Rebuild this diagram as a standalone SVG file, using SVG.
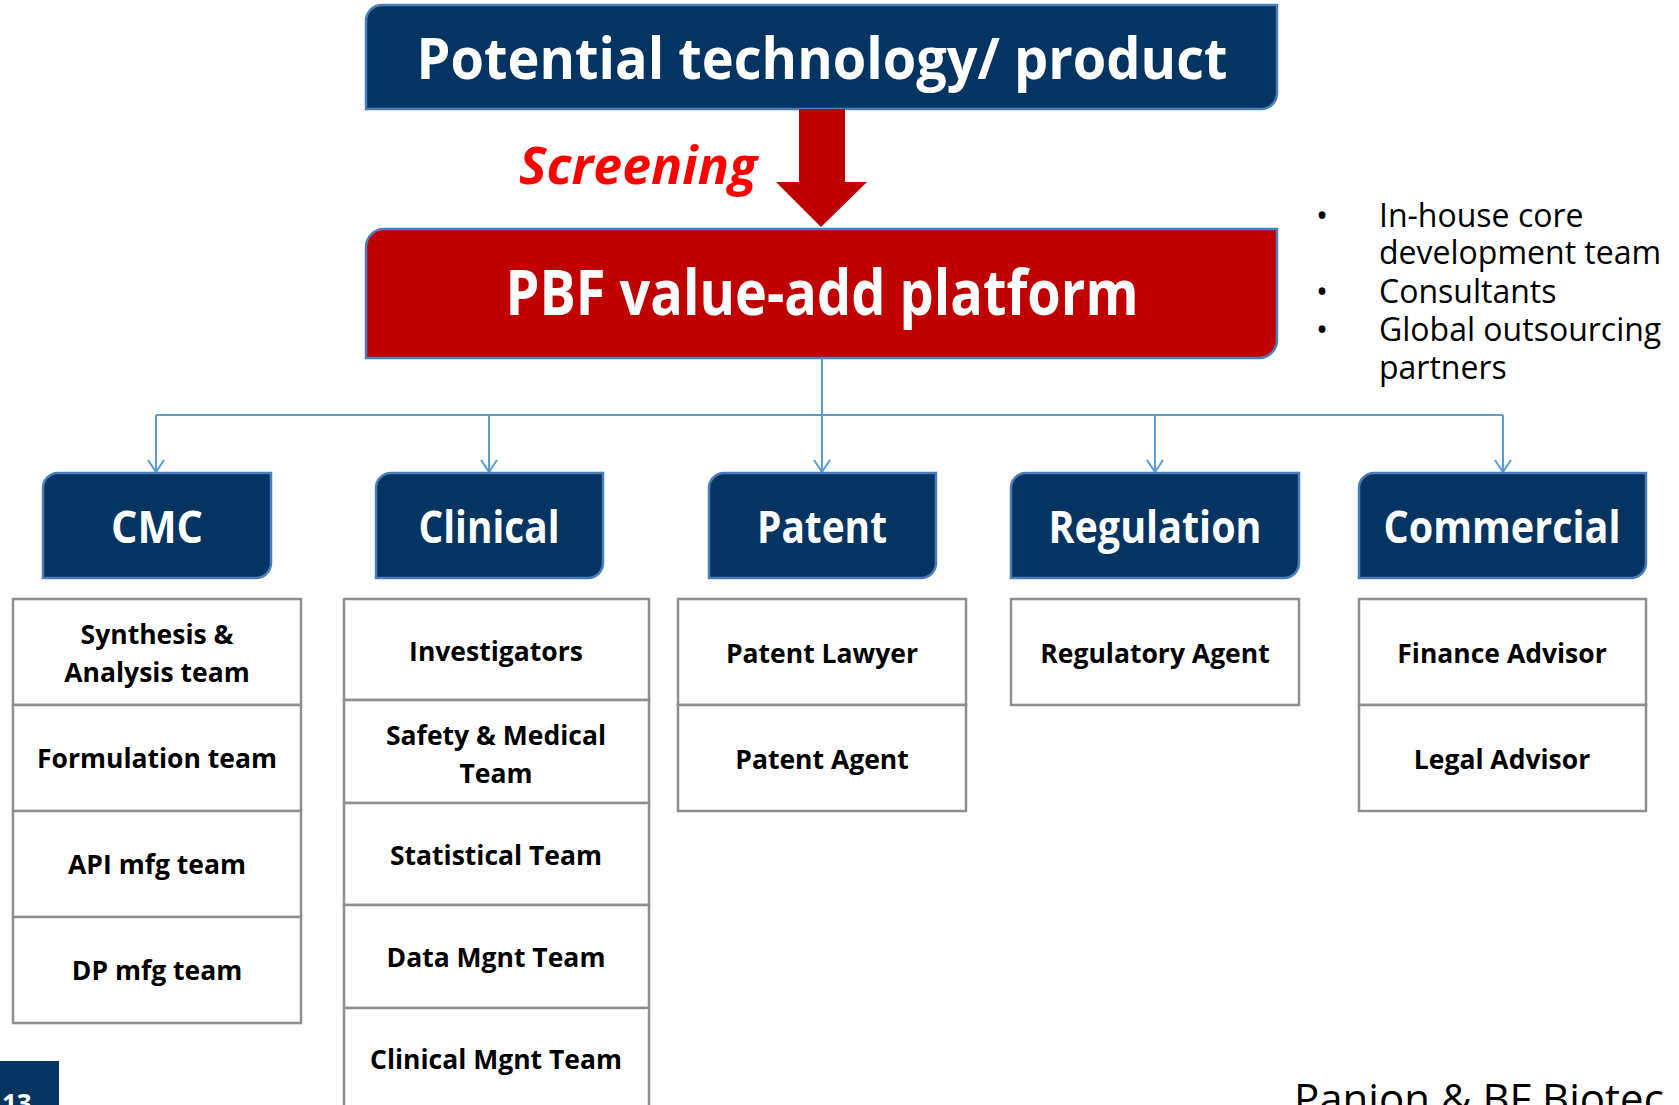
<svg xmlns="http://www.w3.org/2000/svg" width="1679" height="1105" viewBox="0 0 1679 1105">
<style>
.blue{fill:#033462;stroke:#4A7EBB;stroke-width:2.5}
.red{fill:#C00000;stroke:#4A7EBB;stroke-width:2.5}
.sub{fill:#FFFFFF;stroke:#8E8E8E;stroke-width:2.5}
.hd{font-family:"Open Sans","Noto Sans",sans-serif;font-weight:bold;fill:#FFFFFF;text-anchor:middle}
.st{font-family:"Open Sans","Noto Sans",sans-serif;font-weight:bold;font-size:26.5px;fill:#000000;text-anchor:middle}
.bl{font-family:"Open Sans","Noto Sans",sans-serif;font-size:32px;fill:#000000}
.conn{fill:none;stroke:#5B9BD5;stroke-width:2}
</style>
<defs>
<marker id="vh" viewBox="0 0 20 20" refX="18" refY="10" markerWidth="20" markerHeight="20" markerUnits="userSpaceOnUse" orient="auto">
<polyline points="6,2 18,10 6,18" fill="none" stroke="#5B9BD5" stroke-width="2"/>
</marker>
</defs>
<rect width="1679" height="1105" fill="#FFFFFF"/>

<g id="top">
<path class="blue" d="M366,21 A16,16 0 0 1 382,5 H1277 V93 A16,16 0 0 1 1261,109 H366 Z"/>
<text class="hd" x="822" y="79" font-size="58" textLength="811" lengthAdjust="spacingAndGlyphs">Potential technology/ product</text>
</g>

<g id="screening">
<polygon points="799,109 845,109 845,182 867,182 821,227 776,182 799,182" fill="#C00000"/>
<text x="519" y="184" font-family="'Open Sans','Noto Sans',sans-serif" font-weight="bold" font-style="italic" font-size="52" fill="#FF0000" textLength="238" lengthAdjust="spacingAndGlyphs">Screening</text>
</g>

<g id="pbf">
<path class="red" d="M366,247 A18,18 0 0 1 384,229 H1277 V340 A18,18 0 0 1 1259,358 H366 Z"/>
<text class="hd" x="822" y="315" font-size="62" textLength="633" lengthAdjust="spacingAndGlyphs">PBF value-add platform</text>
</g>

<g id="bullets">
<text class="bl" x="1316" y="227">•</text><text class="bl" x="1379" y="227">In-house core</text>
<text class="bl" x="1379" y="264">development team</text>
<text class="bl" x="1316" y="303">•</text><text class="bl" x="1379" y="303">Consultants</text>
<text class="bl" x="1316" y="341">•</text><text class="bl" x="1379" y="341">Global outsourcing</text>
<text class="bl" x="1379" y="379">partners</text>
</g>

<g id="connectors">
<path class="conn" d="M822,358 V415"/>
<path class="conn" d="M156,415 H1503"/>
<path class="conn" d="M156,415 V472" marker-end="url(#vh)"/>
<path class="conn" d="M489,415 V472" marker-end="url(#vh)"/>
<path class="conn" d="M822,415 V472" marker-end="url(#vh)"/>
<path class="conn" d="M1155,415 V472" marker-end="url(#vh)"/>
<path class="conn" d="M1503,415 V472" marker-end="url(#vh)"/>
</g>

<g id="cmc">
<path class="blue" d="M43,488 A15,15 0 0 1 58,473 H271 V563 A15,15 0 0 1 256,578 H43 Z"/>
<text class="hd" x="157" y="543" font-size="44" textLength="92" lengthAdjust="spacingAndGlyphs">CMC</text>
</g>
<g id="clinical">
<path class="blue" d="M376,488 A15,15 0 0 1 391,473 H603 V563 A15,15 0 0 1 588,578 H376 Z"/>
<text class="hd" x="489" y="543" font-size="44" textLength="141" lengthAdjust="spacingAndGlyphs">Clinical</text>
</g>
<g id="patent">
<path class="blue" d="M709,488 A15,15 0 0 1 724,473 H936 V563 A15,15 0 0 1 921,578 H709 Z"/>
<text class="hd" x="822" y="543" font-size="44" textLength="130" lengthAdjust="spacingAndGlyphs">Patent</text>
</g>
<g id="regulation">
<path class="blue" d="M1011,488 A15,15 0 0 1 1026,473 H1299 V563 A15,15 0 0 1 1284,578 H1011 Z"/>
<text class="hd" x="1155" y="543" font-size="44" textLength="213" lengthAdjust="spacingAndGlyphs">Regulation</text>
</g>
<g id="commercial">
<path class="blue" d="M1359,488 A15,15 0 0 1 1374,473 H1646 V563 A15,15 0 0 1 1631,578 H1359 Z"/>
<text class="hd" x="1502" y="543" font-size="44" textLength="237" lengthAdjust="spacingAndGlyphs">Commercial</text>
</g>

<g id="cmc-teams">
<rect class="sub" x="13" y="599" width="288" height="106"/>
<rect class="sub" x="13" y="705" width="288" height="106"/>
<rect class="sub" x="13" y="811" width="288" height="106"/>
<rect class="sub" x="13" y="917" width="288" height="106"/>
<text class="st" x="157" y="644">Synthesis &amp;</text>
<text class="st" x="157" y="682">Analysis team</text>
<text class="st" x="157" y="768">Formulation team</text>
<text class="st" x="157" y="874">API mfg team</text>
<text class="st" x="157" y="980">DP mfg team</text>
</g>

<g id="clinical-teams">
<rect class="sub" x="344" y="599" width="305" height="101"/>
<rect class="sub" x="344" y="700" width="305" height="103"/>
<rect class="sub" x="344" y="803" width="305" height="102"/>
<rect class="sub" x="344" y="905" width="305" height="103"/>
<rect class="sub" x="344" y="1008" width="305" height="104"/>
<text class="st" x="496" y="661">Investigators</text>
<text class="st" x="496" y="745">Safety &amp; Medical</text>
<text class="st" x="496" y="783">Team</text>
<text class="st" x="496" y="865">Statistical Team</text>
<text class="st" x="496" y="967">Data Mgnt Team</text>
<text class="st" x="496" y="1069">Clinical Mgnt Team</text>
</g>

<g id="patent-teams">
<rect class="sub" x="678" y="599" width="288" height="106"/>
<rect class="sub" x="678" y="705" width="288" height="106"/>
<text class="st" x="822" y="663">Patent Lawyer</text>
<text class="st" x="822" y="769">Patent Agent</text>
</g>

<g id="regulation-teams">
<rect class="sub" x="1011" y="599" width="288" height="106"/>
<text class="st" x="1155" y="663">Regulatory Agent</text>
</g>

<g id="commercial-teams">
<rect class="sub" x="1359" y="599" width="287" height="106"/>
<rect class="sub" x="1359" y="705" width="287" height="106"/>
<text class="st" x="1502" y="663">Finance Advisor</text>
<text class="st" x="1502" y="769">Legal Advisor</text>
</g>

<g id="footer">
<rect x="0" y="1061" width="59" height="44" fill="#033462"/>
<text x="2" y="1113" font-family="'Open Sans','Noto Sans',sans-serif" font-weight="bold" font-size="26" fill="#FFFFFF">13</text>
<text x="1294" y="1114" font-family="'Open Sans','Noto Sans',sans-serif" font-size="42" fill="#000000">Panion &amp; BF Biotec</text>
</g>
</svg>
